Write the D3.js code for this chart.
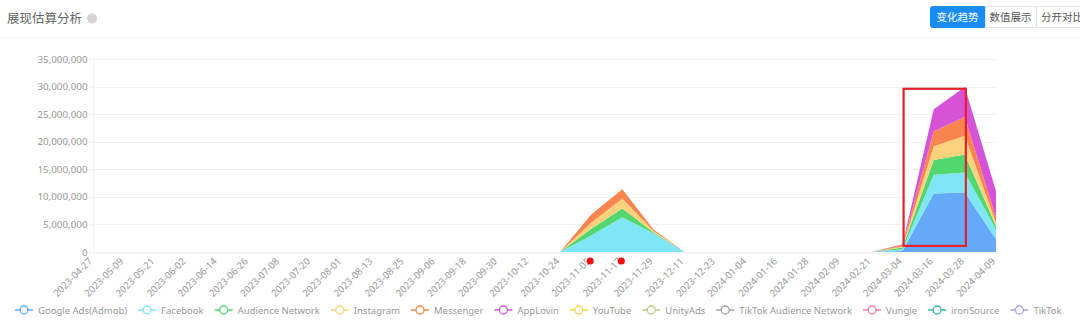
<!DOCTYPE html>
<html>
<head>
<meta charset="utf-8">
<script src="https://cdn.jsdelivr.net/npm/d3@7"></script>
<style>
  html, body { margin: 0; padding: 0; background: #fff; }
  svg { display: block; font-family: "Noto Sans", "Noto Sans CJK SC", sans-serif; }
</style>
</head>
<body>
<svg id="chart" width="1080" height="324"></svg>
<script>
/* ——— data ———————————————————————————————————— */
const dates = [
  "2023-04-27","2023-05-09","2023-05-21","2023-06-02","2023-06-14","2023-06-26",
  "2023-07-08","2023-07-20","2023-08-01","2023-08-13","2023-08-25","2023-09-06",
  "2023-09-18","2023-09-30","2023-10-12","2023-10-24","2023-11-05","2023-11-17",
  "2023-11-29","2023-12-11","2023-12-23","2024-01-04","2024-01-16","2024-01-28",
  "2024-02-09","2024-02-21","2024-03-04","2024-03-16","2024-03-28","2024-04-09"
];

const seriesNames = [
  "Google Ads(Admob)","Facebook","Audience Network","Instagram","Messenger",
  "AppLovin","YouTube","UnityAds","TikTok Audience Network","Vungle","ironSource","TikTok"
];
const seriesColors = [
  "#65a9f9","#7ee6f4","#52d66e","#fdd27c","#f8854f",
  "#d653d8","#f0d84c","#b8cf86","#a0a0a0","#f27ca6","#2fb7a5","#a9a3e6"
];

const zeros = dates.map(() => 0);
//                      ... 10-24    11-05    11-17    11-29  12-11 ... 02-21  03-04    03-16     03-28     04-09
const googleAds   = [0,0,0,0,0,0,0,0,0,0,0,0,0,0,0, 0,       0,       0,       0,      0, 0,0,0,0,0, 0, 200000, 10600000, 10800000, 2300000];
const facebook    = [0,0,0,0,0,0,0,0,0,0,0,0,0,0,0, 0, 3000000, 6300000, 3400000,      0, 0,0,0,0,0, 0, 300000,  3400000,  3600000, 1800000];
const audienceNet = [0,0,0,0,0,0,0,0,0,0,0,0,0,0,0, 0, 1200000, 1600000,  200000,      0, 0,0,0,0,0, 0, 300000,  2700000,  3300000,  600000];
const instagram   = [0,0,0,0,0,0,0,0,0,0,0,0,0,0,0, 0, 1100000, 1800000,  200000,      0, 0,0,0,0,0, 0, 200000,  2500000,  3400000,  600000];
const messenger   = [0,0,0,0,0,0,0,0,0,0,0,0,0,0,0, 0, 1500000, 1700000,  300000,      0, 0,0,0,0,0, 0, 300000,  2700000,  3400000,  900000];
const appLovin    = [0,0,0,0,0,0,0,0,0,0,0,0,0,0,0, 0,       0,       0,       0,      0, 0,0,0,0,0, 0, 100000,  4000000,  5400000, 4800000];
const youtube     = zeros;
const unityAds    = zeros;
const tiktokAN    = zeros;
const vungle      = zeros;
const ironSource  = zeros;
const tiktok      = zeros;

const seriesValues = [googleAds, facebook, audienceNet, instagram, messenger,
  appLovin, youtube, unityAds, tiktokAN, vungle, ironSource, tiktok];

const yTicks = [0, 5000000, 10000000, 15000000, 20000000, 25000000, 30000000, 35000000];

// annotations seen on the picture
const boxFrom = "2024-03-04", boxTo = "2024-03-28", boxLow = 1100000, boxHigh = 29600000;
const dotDates = ["2023-11-05", "2023-11-17"];

const title = "展现估算分析";
const buttons = ["变化趋势", "数值展示", "分开对比"];

/* ——— layout —————————————————————————————————— */
const W = 1080, H = 324;
const margin = {top: 59, right: 84, bottom: 72, left: 93};
const svg = d3.select("#chart");

const x = d3.scalePoint(dates, [margin.left, W - margin.right]);
const y = d3.scaleLinear([0, 35000000], [H - margin.bottom, margin.top]);

/* ——— header ——————————————————————————————————— */
svg.append("text")
  .attr("x", 7).attr("y", 23)
  .attr("font-size", 12.5).attr("fill", "#666")
  .text(title);
svg.append("circle")
  .attr("cx", 92).attr("cy", 18.5).attr("r", 5)
  .attr("fill", "#d4d4d4");
svg.append("line")
  .attr("x1", 0).attr("x2", W).attr("y1", 37.5).attr("y2", 37.5)
  .attr("stroke", "#f2f2f2");

const btnW = [55, 51, 52];
let bx = 930;
buttons.forEach((b, i) => {
  const g = svg.append("g").attr("transform", `translate(${bx},6)`);
  g.append("rect")
    .attr("x", 0.5).attr("y", 0.5)
    .attr("width", btnW[i]).attr("height", 21)
    .attr("rx", i === 0 ? 2 : 0)
    .attr("fill", i === 0 ? "#1a8cf5" : "#fff")
    .attr("stroke", i === 0 ? "#1a8cf5" : "#e3e3e3");
  g.append("text")
    .attr("x", btnW[i] / 2).attr("y", 15)
    .attr("text-anchor", "middle")
    .attr("font-size", 10.5)
    .attr("fill", i === 0 ? "#fff" : "#555")
    .text(b);
  bx += btnW[i];
});

/* ——— grid + axes ——————————————————————————————— */
svg.append("g")
  .selectAll("line").data(yTicks.slice(1)).join("line")
    .attr("x1", margin.left).attr("x2", W - margin.right)
    .attr("y1", d => Math.round(y(d)) + 0.5).attr("y2", d => Math.round(y(d)) + 0.5)
    .attr("stroke", "#f1f1f1");

const yAxis = svg.append("g")
  .attr("transform", `translate(${margin.left + 0.5},0)`)
  .call(d3.axisLeft(y).tickValues(yTicks).tickFormat(d3.format(",")).tickSize(4).tickPadding(2));
yAxis.select(".domain").attr("stroke", "#eeeeee");
yAxis.selectAll(".tick line").attr("stroke", "#eeeeee");
yAxis.selectAll("text").attr("fill", "#999").attr("font-size", 9.8)
  .attr("font-family", "Noto Sans, sans-serif");

/* ——— stacked areas ————————————————————————————— */
const table = dates.map((d, i) => {
  const row = {date: d};
  seriesNames.forEach((s, k) => row[s] = seriesValues[k][i]);
  return row;
});
const stack = d3.stack().keys(seriesNames)(table);

const area = d3.area()
  .x(d => x(d.data.date))
  .y0(d => y(d[0]))
  .y1(d => y(d[1]));

svg.append("g")
  .selectAll("path").data(stack).join("path")
    .attr("fill", (d, i) => seriesColors[i])
    .attr("d", area);

const xAxis = svg.append("g")
  .attr("transform", `translate(0,${H - margin.bottom + 0.5})`)
  .call(d3.axisBottom(x).tickSize(0).tickPadding(0));
xAxis.select(".domain").attr("stroke", "#e8eef2");
xAxis.selectAll("text")
  .attr("fill", "#999").attr("font-size", 9.6)
  .attr("font-family", "Noto Sans, sans-serif")
  .attr("text-anchor", "end")
  .attr("dy", "0.35em")
  .attr("transform", "translate(-3,7) rotate(-45)");

/* ——— annotations ——————————————————————————————— */
svg.append("rect")
  .attr("x", x(boxFrom) + 1).attr("y", y(boxHigh))
  .attr("width", x(boxTo) - x(boxFrom)).attr("height", y(boxLow) - y(boxHigh))
  .attr("fill", "none").attr("stroke", "#e5202a").attr("stroke-width", 2.2);

svg.append("g")
  .selectAll("circle").data(dotDates).join("circle")
    .attr("cx", d => x(d) - 1).attr("cy", H - margin.bottom + 9)
    .attr("r", 3.5).attr("fill", "#f20d0d");

/* ——— legend —————————————————————————————————— */
const legend = svg.append("g").attr("transform", "translate(15,310)");
let lx = 0;
seriesNames.forEach((name, i) => {
  const g = legend.append("g").attr("transform", `translate(${lx},0)`);
  g.append("line").attr("x1", 0).attr("x2", 18).attr("y1", 0).attr("y2", 0)
    .attr("stroke", seriesColors[i]).attr("stroke-width", 1.5);
  g.append("circle").attr("cx", 9).attr("cy", 0).attr("r", 4)
    .attr("fill", "#fff").attr("stroke", seriesColors[i]).attr("stroke-width", 1.3);
  const t = g.append("text").attr("x", 23).attr("y", 3.5)
    .attr("font-size", 9.5).attr("fill", "#999").text(name);
  lx += 23 + t.node().getComputedTextLength() + 11;
});
</script>
</body>
</html>
